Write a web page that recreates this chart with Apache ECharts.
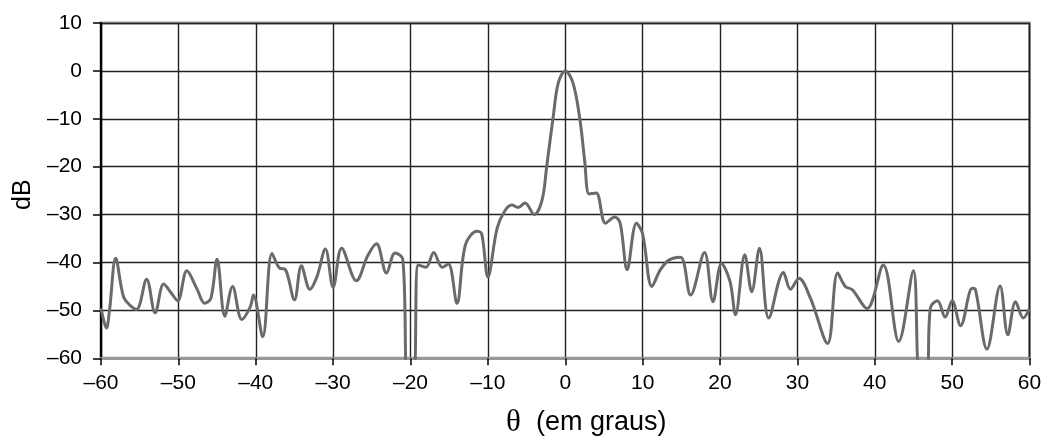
<!DOCTYPE html>
<html>
<head>
<meta charset="utf-8">
<script src="https://cdn.jsdelivr.net/npm/echarts@6/dist/echarts.min.js"></script>
<style>
html,body{margin:0;padding:0;background:#fff;}
#c{width:1047px;height:439px;}
</style>
</head>
<body>
<div id="c"></div>
<script>
// angle in degrees
const theta = [
  -60.0, -59.3, -58.9, -58.1, -57.1, -56.2, -55.4, -54.1, -53.0, -51.9,
  -51.0, -50.1, -48.9, -47.6, -46.6, -45.8, -45.0, -44.0, -43.0, -41.8,
  -40.7, -40.3, -39.1, -37.9, -36.9, -36.2, -35.0, -34.1, -33.0, -32.1,
  -31.0, -30.0, -28.9, -27.0, -25.5, -24.4, -23.1, -22.0, -21.0, -20.4,
  -19.6, -19.0, -18.0, -17.0, -15.9, -15.1, -14.0, -12.9, -11.4, -10.8,
  -10.0, -8.8, -7.8, -6.9, -6.1, -5.2, -4.0, -3.0, -2.4, -1.55,
  -0.9, 0.0, 1.0, 1.9, 2.5, 3.1, 4.0, 5.2, 6.4, 7.1,
  8.0, 9.2, 10.0, 11.2, 12.3, 13.4, 14.9, 16.2, 18.0, 19.1,
  20.2, 21.3, 22.0, 23.2, 24.1, 25.1, 26.3, 28.2, 29.1, 30.2,
  31.7, 33.9, 35.2, 36.2, 37.1, 39.0, 41.1, 43.1, 45.0, 45.8,
  46.7, 47.2, 48.1, 49.1, 50.0, 51.1, 52.6, 53.0, 54.5, 56.2,
  57.2, 58.2, 59.2, 60.0
];
// level in dB
const level = [
  -49.5, -53.7, -50.0, -39.1, -47.1, -49.0, -49.8, -43.5, -50.5, -44.5,
  -46.2, -48.0, -41.7, -45.5, -48.5, -47.5, -39.3, -51.2, -45.0, -51.9,
  -49.2, -46.8, -55.5, -38.1, -41.2, -41.4, -47.8, -40.7, -45.6, -43.0,
  -37.2, -45.2, -37.0, -43.8, -38.5, -36.1, -42.2, -38.0, -39.3, -63.0,
  -63.0, -40.5, -41.0, -37.9, -41.0, -40.3, -48.5, -36.3, -33.5, -34.0,
  -43.0, -32.8, -29.2, -28.0, -28.5, -27.6, -30.0, -27.0, -20.0, -9.5,
  -2.5, 0.0, -2.5, -10.2, -18.6, -25.7, -25.5, -31.8, -30.5, -31.8,
  -41.5, -31.8, -34.0, -45.0, -41.5, -39.5, -38.9, -46.8, -37.9, -48.2,
  -40.2, -44.0, -50.9, -38.4, -46.1, -37.0, -51.6, -42.1, -45.6, -43.3,
  -47.5, -56.9, -42.2, -45.0, -45.7, -49.6, -40.5, -56.5, -41.7, -63.0,
  -63.0, -49.4, -48.0, -51.4, -48.0, -53.2, -45.4, -45.6, -58.1, -44.9,
  -55.1, -48.2, -51.6, -49.6
];
const xTicks = {min: -60, max: 60, step: 10};
const yTicks = {min: -60, max: 10, step: 10};

const data = theta.map((t, i) => [t, level[i]]);
const fmt = v => (v < 0 ? '\u2013' + Math.abs(v) : String(v));
const font = 'Liberation Sans, Arial, sans-serif';

const chart = echarts.init(document.getElementById('c'), null, {renderer: 'canvas'});
chart.setOption({
  animation: false,
  backgroundColor: '#fff',
  grid: {
    left: 101, right: 17.5, top: 23, bottom: 80.7,
    containLabel: false, outerBoundsMode: 'none',
    show: true, borderColor: '#999', borderWidth: 3, backgroundColor: 'transparent'
  },
  xAxis: {
    type: 'value',
    min: xTicks.min, max: xTicks.max, interval: xTicks.step,
    name: '{t|\u03B8}{s|  (em graus)}',
    nameLocation: 'middle', nameGap: 49,
    nameTextStyle: {
      padding: [0, 0, 0, 42],
      rich: {
        t: {fontFamily: 'Liberation Serif, DejaVu Serif, serif', fontSize: 31, color: '#000'},
        s: {fontFamily: font, fontSize: 27, color: '#000'}
      }
    },
    axisLine: {show: true, onZero: false, lineStyle: {color: '#999', width: 3}},
    axisTick: {show: true, length: 7, lineStyle: {color: '#000', width: 1.5}},
    axisLabel: {formatter: fmt, fontFamily: font, fontSize: 21, color: '#000', margin: 14},
    splitLine: {show: true, lineStyle: {color: '#222', width: 1.4}}
  },
  yAxis: {
    type: 'value',
    min: yTicks.min, max: yTicks.max, interval: yTicks.step,
    name: 'dB', nameLocation: 'middle', nameGap: 57, nameRotate: 90,
    nameTextStyle: {fontFamily: font, fontSize: 25, color: '#000', padding: [0, 8, 0, 0]},
    axisLine: {show: true, onZero: false, lineStyle: {color: '#000', width: 2}},
    axisTick: {show: true, length: 8, lineStyle: {color: '#000', width: 1.5}},
    axisLabel: {formatter: fmt, fontFamily: font, fontSize: 21, color: '#000', margin: 19},
    splitLine: {show: true, lineStyle: {color: '#222', width: 1.4}}
  },
  series: [{
    type: 'line',
    data: data,
    smooth: 0.35,
    showSymbol: false,
    clip: true,
    lineStyle: {color: '#6a6a6a', width: 3},
    z: 3
  }]
});
</script>
</body>
</html>
